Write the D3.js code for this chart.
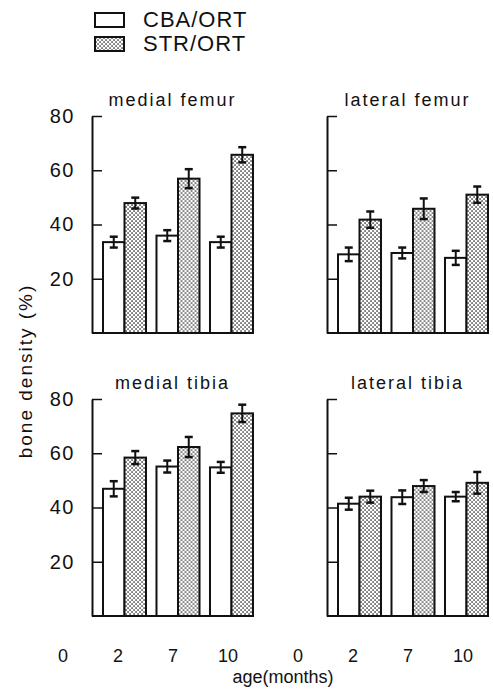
<!DOCTYPE html>
<html>
<head>
<meta charset="utf-8">
<script src="https://cdn.jsdelivr.net/npm/d3@7"></script>
<style>
	body { margin: 0; background: #fff; }
	svg text { font-family: "Liberation Sans", Arial, sans-serif; fill: #111; }
</style>
</head>
<body>
<svg id="chart" width="493" height="690"></svg>
<script>
// values
const ages = ["2", "7", "10"];
const axisAges = ["0", "2", "7", "10"];
const seriesNames = ["CBA/ORT", "STR/ORT"];
const panelTitles = ["medial femur", "lateral femur", "medial tibia", "lateral tibia"];
const yTicks = [20, 40, 60, 80];

// rows: medial femur, lateral femur, medial tibia, lateral tibia
const cbaMean = [[33.5, 35.9, 33.5], [29, 29.5, 27.7], [46.9, 55.1, 54.8], [41.4, 43.8, 44]];
const cbaErr = [[2, 2, 2], [2.5, 2, 2.6], [2.8, 2.2, 2], [2.2, 2.5, 1.7]];
const strMean = [[47.9, 56.9, 65.7], [41.8, 45.8, 51], [58.4, 62.3, 74.7], [44, 47.9, 49.1]];
const strErr = [[2, 3.5, 2.8], [3, 3.8, 3], [2.4, 3.7, 3.2], [2.2, 2.2, 4]];

const svg = d3.select("#chart");
const colX = [92, 327], rowY = [116, 399];
const w = 161, h = 217;

// stipple fill
const pat = svg.append("defs").append("pattern")
	.attr("id", "stipple")
	.attr("patternUnits", "userSpaceOnUse")
	.attr("width", 4).attr("height", 4);
pat.append("rect").attr("width", 4).attr("height", 4).attr("fill", "#fff");
pat.append("rect").attr("x", 0.3).attr("y", 0.3).attr("width", 1.5).attr("height", 1.5).attr("fill", "#333");
pat.append("rect").attr("x", 2.3).attr("y", 2.3).attr("width", 1.5).attr("height", 1.5).attr("fill", "#333");
const fills = ["#fff", "url(#stipple)"];

const x0 = d3.scaleBand().domain(ages).range([11, w]).paddingInner(0.196).paddingOuter(0);
const x1 = d3.scaleBand().domain(seriesNames).range([0, x0.bandwidth()]);
const xLab = d3.scalePoint().domain(axisAges).range([-29, 136]);
const y = d3.scaleLinear().domain([0, 80]).range([h, 0]);

panelTitles.forEach((title, p) => {
	const col = p % 2, row = Math.floor(p / 2);
	const g = svg.append("g").attr("transform", "translate(" + colX[col] + "," + rowY[row] + ")");

	const rows = ages.map((a, i) => ({
		age: a,
		vals: [
			{ s: seriesNames[0], m: cbaMean[p][i], e: cbaErr[p][i] },
			{ s: seriesNames[1], m: strMean[p][i], e: strErr[p][i] }
		]
	}));

	const grp = g.selectAll(".grp").data(rows).join("g")
		.attr("transform", d => "translate(" + x0(d.age) + ",0)");

	grp.selectAll("rect").data(d => d.vals).join("rect")
		.attr("x", d => x1(d.s))
		.attr("y", d => y(d.m))
		.attr("width", x1.bandwidth())
		.attr("height", d => y(0) - y(d.m))
		.attr("fill", (d, i) => fills[i])
		.attr("stroke", "#111")
		.attr("stroke-width", 2);

	// error bars
	const eb = grp.selectAll(".eb").data(d => d.vals).join("g")
		.attr("class", "eb")
		.attr("transform", d => "translate(" + (x1(d.s) + x1.bandwidth() / 2) + ",0)");
	eb.append("line")
		.attr("y1", d => y(d.m - d.e)).attr("y2", d => y(d.m + d.e))
		.attr("stroke", "#111").attr("stroke-width", 2);
	eb.selectAll(".cap").data(d => [d.m - d.e, d.m + d.e]).join("line")
		.attr("class", "cap")
		.attr("x1", -4).attr("x2", 4)
		.attr("y1", v => y(v)).attr("y2", v => y(v))
		.attr("stroke", "#111").attr("stroke-width", 2.5);

	// baseline
	g.append("line")
		.attr("x1", 0).attr("x2", x0.range()[1])
		.attr("y1", y(0)).attr("y2", y(0))
		.attr("stroke", "#111").attr("stroke-width", 2);

	const ax = g.append("g")
		.call(d3.axisLeft(y).tickValues(yTicks).tickSizeInner(-10).tickSizeOuter(0).tickPadding(17)
			.tickFormat(col === 0 ? d3.format("d") : () => ""));
	ax.select(".domain").attr("stroke", "#111").attr("stroke-width", 2);
	ax.selectAll(".tick line").attr("stroke", "#111").attr("stroke-width", 1.5);
	ax.selectAll(".tick text").attr("font-size", 20).attr("letter-spacing", 1.5).attr("fill", "#111");

	g.append("text")
		.attr("x", w / 2).attr("y", -10)
		.attr("text-anchor", "middle")
		.attr("font-size", 18).attr("letter-spacing", 2)
		.text(title);

	if (row === 1) {
		g.selectAll(".xl").data(axisAges).join("text")
			.attr("class", "xl")
			.attr("x", d => xLab(d)).attr("y", h + 46)
			.attr("text-anchor", "middle")
			.attr("font-size", 18)
			.text(d => d);
	}
});

// legend
const leg = svg.append("g").attr("transform", "translate(95,13)");
seriesNames.forEach((s, i) => {
	leg.append("rect")
		.attr("x", 0).attr("y", i * 24)
		.attr("width", 29).attr("height", 14)
		.attr("fill", fills[i]).attr("stroke", "#111").attr("stroke-width", 2);
	leg.append("text")
		.attr("x", 48).attr("y", i * 24 + 14)
		.attr("font-size", 22).attr("letter-spacing", 1)
		.text(s);
});

svg.append("text")
	.attr("transform", "translate(32,371) rotate(-90)")
	.attr("text-anchor", "middle")
	.attr("font-size", 19).attr("letter-spacing", 2)
	.text("bone density (%)");

svg.append("text")
	.attr("x", 283).attr("y", 683)
	.attr("text-anchor", "middle")
	.attr("font-size", 18)
	.text("age(months)");
</script>
</body>
</html>
